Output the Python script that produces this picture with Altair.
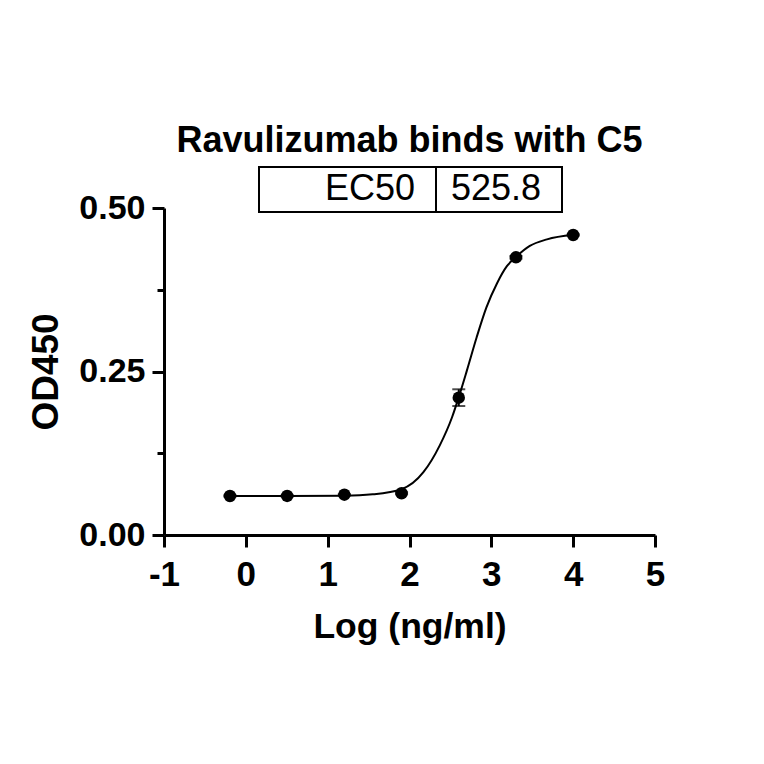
"""Ravulizumab / C5 binding ELISA: OD450 vs log concentration with 4PL fit."""

import altair as alt
import pandas as pd

FONT = "Liberation Sans"

TITLE = "Ravulizumab binds with C5"
TABLE_LABEL = "EC50"
TABLE_VALUE = "525.8"

# measured points (log10 ng/ml), mean OD450 and SD
LOG_CONC = [-0.194, 0.505, 1.204, 1.903, 2.602, 3.301, 4.0]
OD_MEAN = [0.0596, 0.0597, 0.0616, 0.0638, 0.210, 0.4246, 0.4587]
OD_SD = [0.001, 0.001, 0.001, 0.0015, 0.0128, 0.002, 0.001]

# fitted curve
FIT_X = [-0.194, 0.505, 1.204, 1.55, 1.903, 2.17, 2.37, 2.52, 2.60, 2.70,
         2.82, 2.94, 3.07, 3.19, 3.30, 3.47, 3.68, 4.0]
FIT_Y = [0.0595, 0.0596, 0.0601, 0.0622, 0.0700, 0.0960, 0.137, 0.180, 0.210,
         0.251, 0.302, 0.348, 0.385, 0.411, 0.425, 0.442, 0.452, 0.459]

X_TICKS = [-1, 0, 1, 2, 3, 4, 5]
Y_TICKS = [0, 0.125, 0.25, 0.375, 0.5]

W, H = 491, 327

pts = pd.DataFrame({"x": LOG_CONC, "y": OD_MEAN, "sd": OD_SD})
pts["lo"] = pts["y"] - pts["sd"]
pts["hi"] = pts["y"] + pts["sd"]
fit = pd.DataFrame({"x": FIT_X, "y": FIT_Y})

minor = "datum.value == 0.125 || datum.value == 0.375"

xs = alt.Scale(domain=[-1, 5], nice=False, zero=False)
ys = alt.Scale(domain=[0, 0.5], nice=False)

x_enc = alt.X(
    "x:Q", scale=xs, title="Log (ng/ml)",
    axis=alt.Axis(
        values=X_TICKS, grid=False, tickSize=12, tickWidth=3,
        domainWidth=3, domainColor="black", tickColor="black",
        labelExpr="datum.value < 0 ? '-' + abs(datum.value) : '' + datum.value",
        labelFont=FONT, labelFontWeight="bold", labelFontSize=35, labelColor="black",
        labelBaseline="alphabetic", labelPadding=38, labelFlush=False,
        titleFont=FONT, titleFontWeight="bold", titleFontSize=35.5, titleColor="black",
        titleBaseline="alphabetic", titleX=W / 2, titleY=102,
    ),
)
y_enc = alt.Y(
    "y:Q", scale=ys, title="OD450",
    axis=alt.Axis(
        values=Y_TICKS, grid=False, tickWidth=3, domainWidth=3,
        domainColor="black", tickColor="black",
        tickSize={"condition": {"test": minor, "value": 7}, "value": 12},
        labelExpr=f"{minor} ? '' : format(datum.value, '.2f')",
        labelFont=FONT, labelFontWeight="bold", labelFontSize=34, labelColor="black",
        labelPadding=7, labelFlush=False,
        titleFont=FONT, titleFontWeight="bold", titleFontSize=37, titleColor="black",
        titleBaseline="alphabetic", titleAngle=270, titleX=-107, titleY=H / 2,
    ),
)

curve = alt.Chart(fit).mark_line(
    color="black", strokeWidth=2, interpolate="monotone"
).encode(x=x_enc, y=y_enc)

err = alt.Chart(pts).mark_rule(color="black", strokeWidth=2).encode(
    x="x:Q", y="lo:Q", y2="hi:Q"
)
cap_hi = alt.Chart(pts).mark_tick(
    color="black", orient="horizontal", size=13, thickness=2
).encode(x="x:Q", y="hi:Q")
cap_lo = alt.Chart(pts).mark_tick(
    color="black", orient="horizontal", size=13, thickness=2
).encode(x="x:Q", y="lo:Q")

dots = alt.Chart(pts).mark_circle(color="black", size=155, opacity=1).encode(
    x="x:Q", y="y:Q"
)

head = pd.DataFrame({"title": [TITLE], "label": [TABLE_LABEL], "value": [TABLE_VALUE]})

title = alt.Chart(head).mark_text(
    font=FONT, fontWeight="bold", fontSize=36, color="black",
    align="center", baseline="alphabetic",
).encode(text="title:N", x=alt.value(W / 2), y=alt.value(-56))

box = alt.Chart(head).mark_rect(
    fill="white", stroke="black", strokeWidth=2
).encode(x=alt.value(95), x2=alt.value(398), y=alt.value(-41), y2=alt.value(4))
divider = alt.Chart(head).mark_rule(color="black", strokeWidth=2).encode(
    x=alt.value(272), y=alt.value(-41), y2=alt.value(4)
)
label_txt = alt.Chart(head).mark_text(
    font=FONT, fontSize=36, color="black", align="right", baseline="alphabetic"
).encode(text="label:N", x=alt.value(251), y=alt.value(-8))
value_txt = alt.Chart(head).mark_text(
    font=FONT, fontSize=36, color="black", align="left", baseline="alphabetic"
).encode(text="value:N", x=alt.value(287), y=alt.value(-8))

chart = (
    alt.layer(curve, err, cap_hi, cap_lo, dots, box, divider, label_txt, value_txt, title)
    .properties(
        width=W, height=H,
        autosize=alt.AutoSizeParams(type="none"),
        padding={"left": 156, "top": 200, "right": 101, "bottom": 221},
        background="white",
    )
    .configure_view(stroke=None)
)

chart.save("out.html", embed_options={"renderer": "svg", "actions": False})
